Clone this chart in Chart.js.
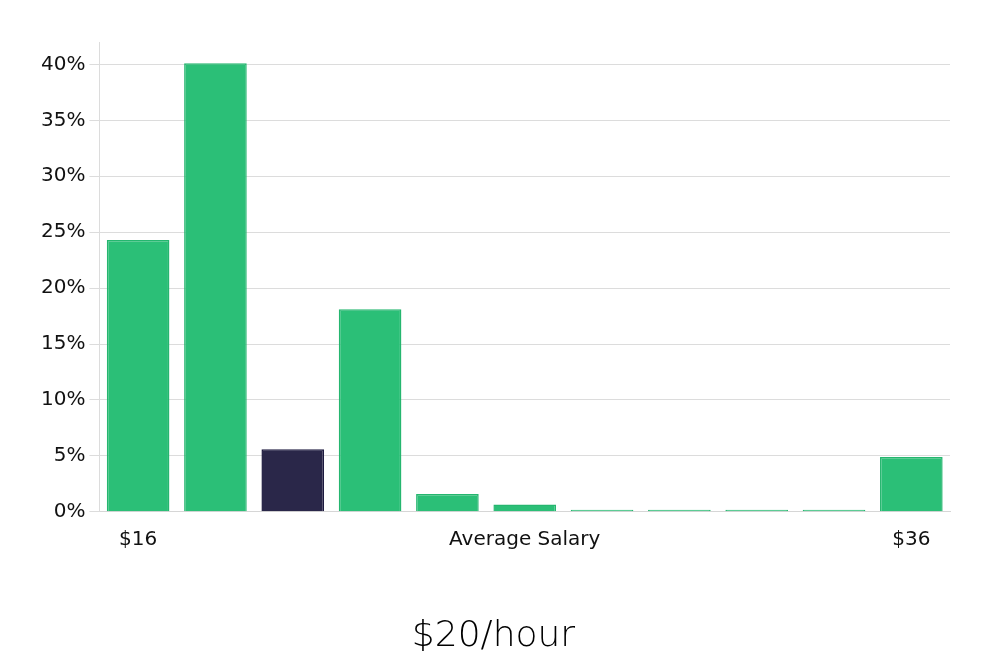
<!DOCTYPE html>
<html>
<head>
<meta charset="utf-8">
<script src="https://cdn.jsdelivr.net/npm/chart.js@4/dist/chart.umd.min.js"></script>
<style>
  html, body { margin: 0; padding: 0; background: #fff; }
  #wrap { width: 1000px; height: 660px; }
</style>
</head>
<body>
<div id="wrap"><canvas id="c" width="1000" height="660"></canvas></div>
<script>
const categories = ['$16', '', '', '', '', 'Average Salary', '', '', '', '', '$36'];
const shares = [24.3, 40.1, 5.6, 18.1, 1.6, 0.65, 0.18, 0.18, 0.18, 0.18, 4.9];
const highlightIndex = 2;
const yTicks = [0, 5, 10, 15, 20, 25, 30, 35, 40];
const titleText = '$20/hour';

const green = '#2bbf77', greenBorder = '#25b66f';
const dark = '#2a2749', darkBorder = '#1d1a3f';

new Chart(document.getElementById('c'), {
  type: 'bar',
  data: {
    labels: categories,
    datasets: [{
      data: shares,
      backgroundColor: shares.map((v, i) => i === highlightIndex ? dark : green),
      borderColor: shares.map((v, i) => i === highlightIndex ? darkBorder : greenBorder),
      borderWidth: 1.5,
      barPercentage: 0.81,
      categoryPercentage: 1.0
    }]
  },
  options: {
    responsive: false,
    animation: false,
    layout: { padding: { left: 37, right: 50, top: 42, bottom: 2 } },
    plugins: {
      legend: { display: false },
      tooltip: { enabled: false },
      title: {
        display: true,
        position: 'bottom',
        text: titleText,
        color: '#000',
        font: { family: 'DejaVu Sans', size: 36, weight: '200' },
        padding: { top: 47, bottom: 0 }
      }
    },
    scales: {
      x: {
        grid: { display: false, drawTicks: false },
        border: { color: '#d6d6d6', width: 1 },
        ticks: {
          autoSkip: false,
          maxRotation: 0,
          color: '#111',
          padding: 16,
          font: { family: 'DejaVu Sans', size: 20 }
        }
      },
      y: {
        min: 0,
        max: 42,
        afterBuildTicks: (axis) => { axis.ticks = yTicks.map(v => ({ value: v })); },
        grid: { color: '#dcdcdc', lineWidth: 1, tickLength: 10 },
        border: { color: '#dcdcdc', width: 1 },
        ticks: {
          color: '#111',
          padding: 4,
          font: { family: 'DejaVu Sans', size: 20 },
          callback: (v) => v + '%'
        }
      }
    }
  }
});
</script>
</body>
</html>
